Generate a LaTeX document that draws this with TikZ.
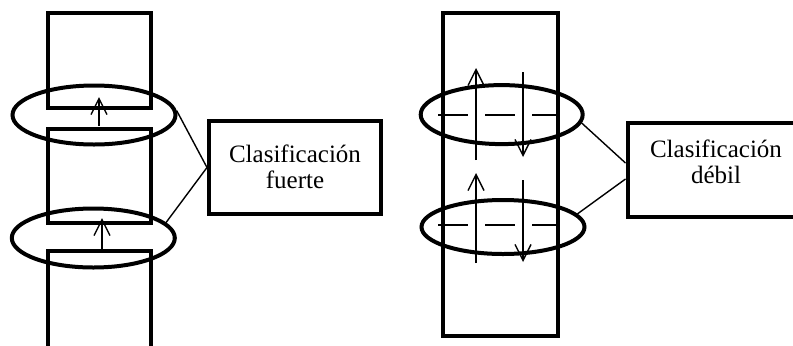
\documentclass[tikz,border=0pt]{standalone}
\usepackage{fontspec}
\setmainfont{Liberation Serif}
\usepackage{tikz}
\usetikzlibrary{shapes.geometric,arrows.meta}

\begin{document}
\begin{tikzpicture}[x=0.5pt,y=0.5pt,
    grueso/.style={line width=2pt},
    fina/.style={line width=0.7pt},
    elipse/.style={ellipse, draw, line width=2pt, inner sep=0pt},
    caja/.style={rectangle, draw, line width=2pt, inner sep=0pt},
    rotulo/.style={align=center, inner sep=0pt, font=\fontsize{12.5}{13}\selectfont},
    flecha/.style={line width=0.7pt, -{Straight Barb[length=8pt,width=8pt]}}]
    \clip (0,0) rectangle (793,345);
    %BLOQUES IZQUIERDA
    \draw[grueso] (47.5,237.5) rectangle (150.5,332.5);
    \draw[grueso] (47.5,122.5) rectangle (150.5,216);
    \draw[grueso] (47.5,-10) rectangle (150.5,94);
    %BLOQUE DERECHA
    \draw[grueso] (442.5,9.5) rectangle (557.5,332.5);
    %LINEAS DISCONTINUAS
    \draw[fina, dash pattern=on 15pt off 8.5pt] (438,230) -- (557,230);
    \draw[fina, dash pattern=on 15pt off 8.5pt] (438,120) -- (557,120);
    %FLECHAS
    \draw[flecha] (99,219) -- (99,248);
    \draw[flecha] (102,93) -- (102,127);
    \draw[flecha] (476,185) -- (476,277);
    \draw[flecha] (476,82) -- (476,172);
    \draw[flecha] (523,273) -- (523,188);
    \draw[flecha] (523,165) -- (523,83);
    %ELIPSES
    \node[elipse, minimum width=81.5pt, minimum height=29.5pt] (e1) at (94,230) {};
    \node[elipse, minimum width=81.5pt, minimum height=29.5pt] (e2) at (93.3,107) {};
    \node[elipse, minimum width=81pt, minimum height=29.5pt] (e3) at (501.7,230.4) {};
    \node[elipse, minimum width=81.5pt, minimum height=27pt] (e4) at (503,118) {};
    %CAJAS
    \node[caja, minimum width=86pt, minimum height=46.5pt] (fuerte) at (295,177.5) {};
    \node[rotulo] (fuertetxt) at (295,178.5) {Clasificación\\fuerte};
    \node[caja, minimum width=88.5pt, minimum height=47pt] (debil) at (716,175.5) {};
    \node[rotulo] (debiltxt) at (716,183) {Clasificación\\débil};
    %UNIONES
    \draw[fina] (e1.3) -- (fuerte.west);
    \draw[fina] (e2.12) -- (fuerte.west);
    \draw[fina] (e3.-6) -- ([yshift=3.25pt]debil.west);
    \draw[fina] (e4.10) -- ([yshift=-4.75pt]debil.west);
\end{tikzpicture}
\end{document}
